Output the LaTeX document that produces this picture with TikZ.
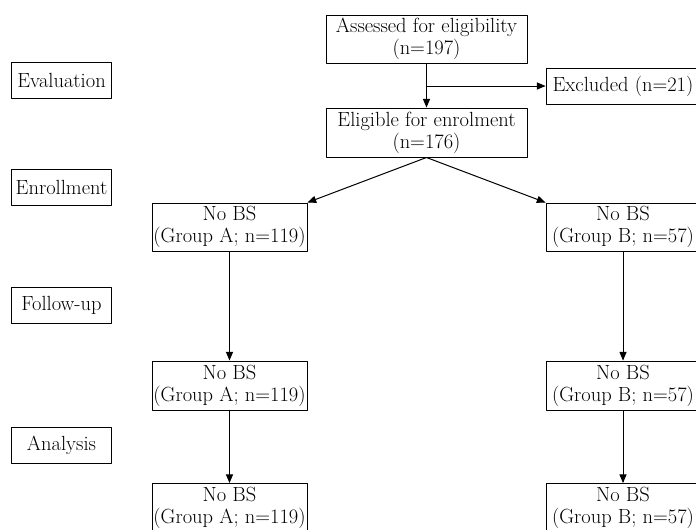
\documentclass[tikz,border=0pt]{standalone}
\usepackage{amsmath,amssymb}
\usepackage{tikz}
\usetikzlibrary{arrows, calc, positioning}

\tikzset{
  stagebox/.style={draw, rectangle, line width=1pt, minimum width=100, minimum height=36, inner sep=0pt, font=\fontsize{20.5}{22}\selectfont},
  flowbox/.style={draw, rectangle, line width=1pt, minimum height=48, inner sep=0pt, align=center, font=\fontsize{20.5}{22}\selectfont},
}

\begin{document}
\begin{tikzpicture}[line cap=round,line join=round,>=triangle 45,x=1pt,y=-1pt]
\clip (0,0) rectangle (696,530);

% stages on the left
\node[stagebox] (Eval) at (61.5, 80.5) {Evaluation};
\node[stagebox] (Enrol) at (61.5, 187) {Enrollment};
\node[stagebox] (Follow) at (61.5, 305) {Follow-up};
\node[stagebox] (Anal) at (61.5, 445.5) {Analysis};

% main flow
\node[flowbox, minimum width=201] (Assess) at (426.5, 39) {Assessed for eligibility\\(n=197)};
\node[flowbox, minimum width=154, minimum height=36] (Excl) at (623, 86) {Excluded (n=21)};
\node[flowbox, minimum width=201, minimum height=49] (Elig) at (426.5, 132.5) {Eligible for enrolment\\(n=176)};

\node[flowbox, minimum width=155] (A1) at (229.5, 227) {No BS\\(Group A; n=119)};
\node[flowbox, minimum width=155, minimum height=49] (A2) at (229.5, 385.5) {No BS\\(Group A; n=119)};
\node[flowbox, minimum width=155, minimum height=49] (A3) at (229.5, 508) {No BS\\(Group A; n=119)};

\node[flowbox, minimum width=154] (B1) at (623, 227) {No BS\\(Group B; n=57)};
\node[flowbox, minimum width=154, minimum height=49] (B2) at (623, 385.5) {No BS\\(Group B; n=57)};
\node[flowbox, minimum width=154, minimum height=49] (B3) at (623, 508) {No BS\\(Group B; n=57)};

\coordinate (Split) at (Assess.south |- Excl.west);

\draw[->, line width=1pt] (Assess.south) -- (Elig.north);
\draw[->, line width=1pt] (Split) -- (Excl.west);

\draw[->, line width=1pt] (Elig.south) -- (A1.north east);
\draw[->, line width=1pt] (Elig.south) -- (B1.north west);

\draw[->, line width=1pt] (A1) -- (A2);
\draw[->, line width=1pt] (A2) -- (A3);
\draw[->, line width=1pt] (B1) -- (B2);
\draw[->, line width=1pt] (B2) -- (B3);

\end{tikzpicture}
\end{document}
